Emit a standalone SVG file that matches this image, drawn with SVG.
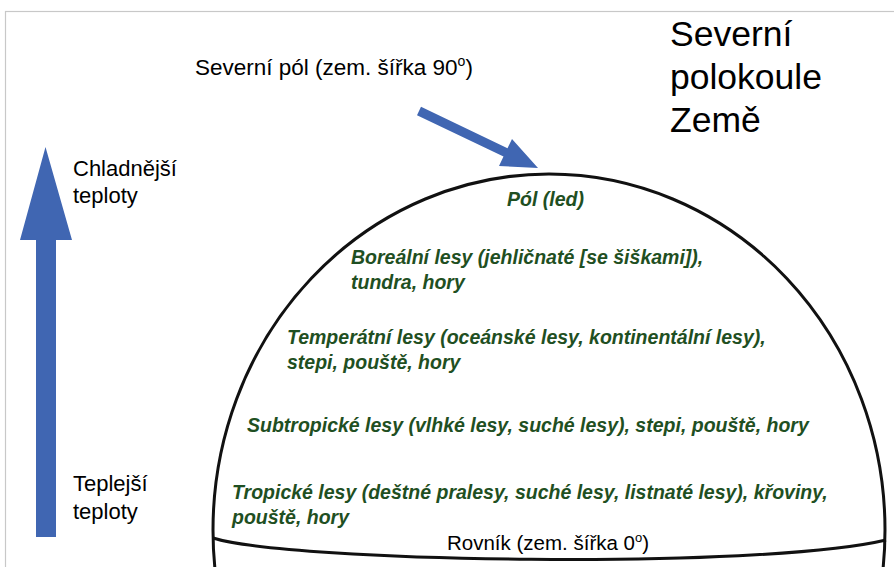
<svg xmlns="http://www.w3.org/2000/svg" width="894" height="567" viewBox="0 0 894 567">
<style>
.lbl{font-family:"Liberation Sans",Arial,sans-serif;fill:#000}
.zone{font-family:"Liberation Sans",Arial,sans-serif;font-weight:bold;font-style:italic;font-size:19.5px;fill:#1F4F22}
.blue{fill:#4066B2}
.edge{fill:none;stroke:#111;stroke-width:3}
</style>
<rect x="5.5" y="11.5" width="900" height="600" fill="#fff" stroke="#c8c8c8" stroke-width="1.2"/>
<g id="earth">
<ellipse class="edge" cx="549" cy="530" rx="336" ry="356"/>
<path id="equator" class="edge" d="M 213 538 C 290 562, 760 570, 886 540"/>
</g>
<g id="connectors">
<polygon id="pole-arrow" class="blue" points="421,106.8 507.5,148.2 512,139 538,168 499,166 503.5,156.6 417,115.2"/>
<polygon id="temp-arrow" class="blue" points="36,537 36,240 20,240 45.5,147 72,240 56,240 56,537"/>
</g>
<g id="title">
<text class="lbl" font-size="35.5"><tspan x="670" y="46">Severní</tspan><tspan x="670" y="89">polokoule</tspan><tspan x="670" y="132">Země</tspan></text>
</g>
<g id="north-pole-label">
<text class="lbl" x="195" y="75" font-size="22.5">Severní pól (zem. šířka 90<tspan font-size="14" dy="-9">o</tspan><tspan dy="9">)</tspan></text>
</g>
<g id="colder">
<text class="lbl" font-size="22"><tspan x="73" y="176">Chladnější</tspan><tspan x="73" y="203">teploty</tspan></text>
</g>
<g id="warmer">
<text class="lbl" font-size="22"><tspan x="73" y="491">Teplejší</tspan><tspan x="73" y="519">teploty</tspan></text>
</g>
<g id="zone-pole"><text class="zone" x="507" y="206">Pól (led)</text></g>
<g id="zone-boreal"><text class="zone"><tspan x="351" y="264">Boreální lesy (jehličnaté [se šiškami]),</tspan><tspan x="351" y="289">tundra, hory</tspan></text></g>
<g id="zone-temperate"><text class="zone"><tspan x="287" y="344">Temperátní lesy (oceánské lesy, kontinentální lesy),</tspan><tspan x="287" y="369">stepi, pouště, hory</tspan></text></g>
<g id="zone-subtropical"><text class="zone" x="247" y="432">Subtropické lesy (vlhké lesy, suché lesy), stepi, pouště, hory</text></g>
<g id="zone-tropical"><text class="zone"><tspan x="232" y="499">Tropické lesy (deštné pralesy, suché lesy, listnaté lesy), křoviny,</tspan><tspan x="232" y="524">pouště, hory</tspan></text></g>
<g id="equator-label">
<text class="lbl" x="447" y="550" font-size="20.5"><tspan>Rovník (zem. šířka 0</tspan><tspan font-size="13" dy="-8">o</tspan><tspan dy="8">)</tspan></text>
</g>
</svg>
